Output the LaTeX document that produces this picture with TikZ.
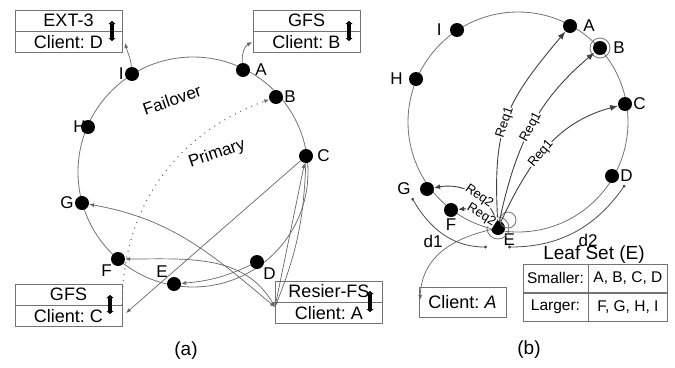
\documentclass[tikz,border=0pt]{standalone}
\usepackage{fontspec}
\setmainfont{Liberation Sans}
\usetikzlibrary{arrows.meta, positioning}

\begin{document}
\frenchspacing
\begin{tikzpicture}[x=1pt,y=-1pt,>={Latex[length=5pt,width=4pt]},thin,font=\fontsize{17}{20}\selectfont]
            \tikzset{every label/.style={inner sep=1pt}}
            \tikzset{dot/.style={circle, fill=black, inner sep=0pt, minimum size=14pt}}
            \tikzset{cell/.style={draw=black!55, minimum width=107pt, minimum height=21pt, inner sep=0pt, font=\fontsize{18}{20}\selectfont}}
            \tikzset{ring/.style={draw=black!55, line width=0.8pt}}
            \tikzset{link/.style={draw=black!60, line width=0.7pt}}
            \tikzset{bar/.style={line width=4pt, {Triangle[length=3pt,width=7pt]}-{Triangle[length=3pt,width=7pt]}}}
            \tikzset{req/.style={draw=black!75, line width=0.9pt, -{Latex[length=8pt,width=6pt]}}}
            \tikzset{rlab/.style={sloped, fill=white, inner sep=0.5pt, font=\fontsize{13}{14}\selectfont}}
            \tikzset{dist/.style={draw=black!70, line width=0.8pt, {Circle[length=3pt]}-{Circle[length=3pt]}}}
            \useasboundingbox (0,0) rectangle (675,367);

            % (a)
            \draw[ring] (193,172) circle[radius=115];
            \node[cell] (ext) at (68.5,20.5) {EXT-3};
            \node[cell, below=0pt of ext] (cliD) {Client: D};
            \node[cell] (gfsB) at (306.5,20.5) {GFS};
            \node[cell, below=0pt of gfsB] (cliB) {Client: B};
            \node[cell] (gfsC) at (68.5,294.5) {GFS};
            \node[cell, below=0pt of gfsC] (cliC) {Client: C};
            \node[cell] (rfs) at (329,291.5) {Resier-FS};
            \node[cell, below=0pt of rfs] (cliA) {Client: A};
            \draw[bar] (112,21) -- (112,41);
            \draw[bar] (349,21) -- (349,41);
            \draw[bar] (110,295) -- (110,314);
            \draw[bar] (370,291) -- (370,312);

            \node[dot, label={left:I}] (aI) at (132,74) {};
            \node[dot, label={[label distance=4pt]right:A}] (aA) at (243,70) {};
            \node[dot, label={right:B}] (aB) at (276,97) {};
            \node[dot, label={[label distance=3pt]right:C}] (aC) at (306,156) {};
            \node[dot, label={below right:D}] (aD) at (257,262) {};
            \node[dot, label={above left:E}] (aE) at (174,284) {};
            \node[dot, label={below left:F}] (aF) at (118,259) {};
            \node[dot, label={left:G}] (aG) at (82,203) {};
            \node[dot, label={[label distance=-6pt]left:H}] (aH) at (88,127) {};
            \node[rotate=19] (fo) at (172,100) {Failover};
            \node[rotate=19] (pr) at (217,154) {Primary};

            \coordinate (tipD) at (125,43);
            \coordinate (tipB) at (252,42);
            \coordinate (tipC) at (126,313);
            \coordinate (rA) at (275,307);
            \path (aI) edge[link,->,out=95,in=-75] (tipD);
            \path (aA) edge[link,->,out=95,in=210] (tipB);
            \path (cliC.north east) edge[link,->,line width=1.1pt,dash pattern=on 1pt off 5pt,out=90,in=200] (aB);
            \path (aC) edge[link,->] (tipC);
            \path (rA) edge[link,<->,out=140,in=-10] (aG);
            \path (rA) edge[link,<->,out=120,in=0] (aF);
            \path (rA) edge[link,<->] (aC);
            \path (rA) edge[link,bend right=10] (aC);
            \path (aD) edge[link,->,out=205,in=5] (aE);

            % (b)
            \draw[ring] (518,122) circle[radius=110];
            \node[dot, label={[label distance=7pt]left:I}] (bI) at (457,30) {};
            \node[dot, label={[label distance=5pt]right:A}] (bA) at (570,26) {};
            \node[dot, label={[label distance=5pt]right:B}] (bB) at (600,48) {};
            \node[dot, label={right:C}] (bC) at (625,104) {};
            \node[dot, label={right:D}] (bD) at (612,176) {};
            \node[dot, label={[label distance=-1pt]below right:E}] (bE) at (498,228) {};
            \node[dot, label={below:F}] (bF) at (451,210) {};
            \node[dot, label={[label distance=8pt]left:G}] (bG) at (427,189) {};
            \node[dot, label={[label distance=5pt]left:H}] (bH) at (416,79) {};
            \node[ring, circle, minimum size=20pt, inner sep=0pt] (bBr) at (bB) {};
            \node[ring, circle, minimum size=22pt, inner sep=0pt] (bEr) at (bE) {};
            \node[ring, circle, minimum size=16pt, inner sep=0pt] (bEl) at (508,220) {};

            \path (bE) edge[req, out=93, in=-130, looseness=1.2] node[rlab, pos=0.47] {Req1} (bA);
            \path (bE) edge[req, out=78, in=-140] node[rlab, pos=0.5] {Req1} (bB);
            \path (bE) edge[req, out=65, in=-165] node[rlab, pos=0.45] {Req1} (bC);
            \path (bE) edge[req, out=105, in=10, -{Latex[length=6pt,width=5pt]}] node[rlab, pos=0.4] {Req2} (bG);
            \path (bE) edge[req, out=140, in=5, -{Latex[length=6pt,width=5pt]}] node[rlab, pos=0.35] {Req2} (bF);

            \coordinate (d1s) at (412,198);
            \coordinate (d1e) at (487,247);
            \coordinate (d2s) at (508,247);
            \coordinate (d2e) at (625,185);
            \path (d1s) edge[dist, out=-60, in=180] (d1e);
            \path (d2s) edge[dist, out=0, in=-125] (d2e);
            \node (dA) at (433,241) {d1};
            \node (dB) at (588,240) {d2};

            \node[draw=black!55, minimum width=87pt, minimum height=30pt, inner sep=0pt, font=\fontsize{18}{20}\selectfont] (cliAb) at (462.5,302) {Client: \textit{A}};
            \coordinate (tipA) at (420,300);
            \draw[link,->] (bE) .. controls (455,238) and (422,255) .. (tipA);

            \tikzset{lcell/.style={draw=black!55, minimum height=28.5pt, inner sep=0pt, font=\fontsize{15.5}{17}\selectfont}}
            \node[font=\fontsize{19}{21}\selectfont] (leafT) at (594,255) {Leaf Set (E)};
            \node[lcell, minimum width=65pt] (sm) at (555.5,278.25) {Smaller:};
            \node[lcell, minimum width=79pt, right=0pt of sm] (smv) {A, B, C, D};
            \node[lcell, minimum width=65pt, below=0pt of sm] (lg) {Larger:};
            \node[lcell, minimum width=79pt, right=0pt of lg] (lgv) {F, G, H, I};

            \node[font=\fontsize{19}{21}\selectfont] (capA) at (186,351) {(a)};
            \node[font=\fontsize{19}{21}\selectfont] (capB) at (529,350) {(b)};
        \end{tikzpicture}
\end{document}
